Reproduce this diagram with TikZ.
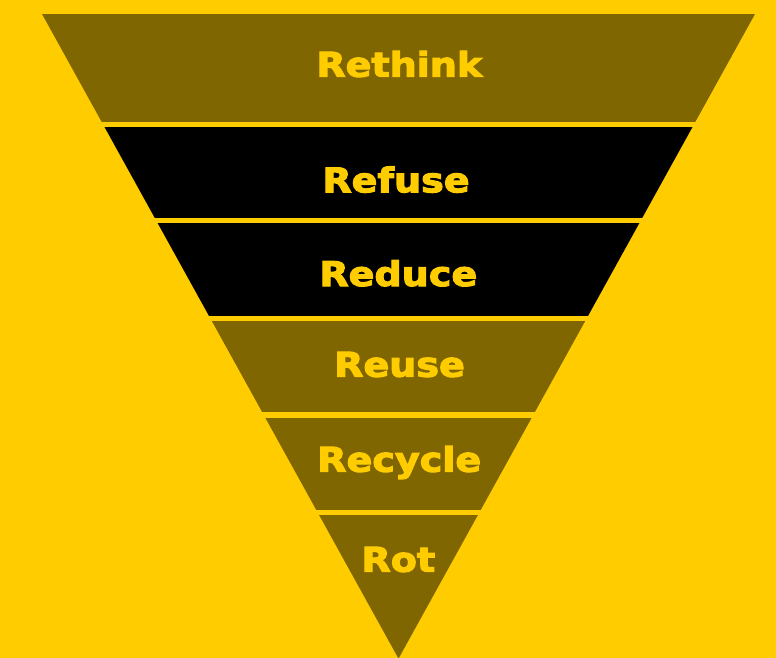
\documentclass[tikz,border=0pt]{standalone}
\usepackage{fontspec}
\newfontfamily\lblfont{DejaVu Sans Bold}[FakeBold=3]
\definecolor{yel}{HTML}{FFCC00}
\definecolor{olv}{HTML}{806600}
\tikzset{
  lbl/.style={anchor=base, inner sep=0pt, text=yel, font=\lblfont\fontsize{34}{40}\selectfont},
}
\newcommand{\wide}[1]{\scalebox{1.12}[1]{#1}}
\begin{document}
\begin{tikzpicture}[x=1pt,y=-1pt]
\useasboundingbox (0,0) rectangle (776,658);
\fill[yel] (0,0) rectangle (776,658);
\begin{scope}
  \clip (42,14) -- (755,14) -- (398.5,658.6) -- cycle;
  \fill[olv] (0,14) rectangle (776,122);
  \fill[black] (0,127) rectangle (776,218.3);
  \fill[black] (0,223.3) rectangle (776,315.8);
  \fill[olv] (0,320.8) rectangle (776,412.3);
  \fill[olv] (0,417.5) rectangle (776,510);
  \fill[olv] (0,515) rectangle (776,670);
\end{scope}
\node[lbl] (rethink) at (399.3,76.7) {\wide{Rethink}};
\node[lbl] (refuse) at (396,192.3) {\wide{Refuse}};
\node[lbl] (reduce) at (398.3,286) {\wide{Reduce}};
\node[lbl] (reuse) at (399.5,376.7) {\wide{Reuse}};
\node[lbl] (recycle) at (399.2,471.7) {\wide{Recycle}};
\node[lbl] (rot) at (398.3,571.7) {\wide{Rot}};
\end{tikzpicture}
\end{document}
